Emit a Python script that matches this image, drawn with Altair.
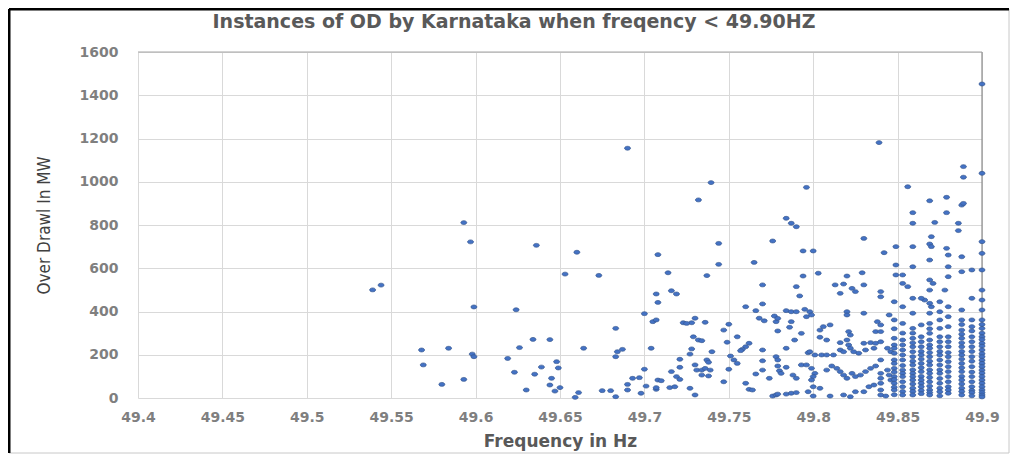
import altair as alt
import pandas as pd

# ---------------- data ----------------
# sparse part, 49.53 - 49.71 Hz
freq_low = [49.539, 49.544, 49.568, 49.569, 49.584, 49.580, 49.593, 49.593, 49.597, 49.599,
            49.598, 49.599, 49.619, 49.624, 49.636, 49.660, 49.690, 49.708, 49.653, 49.673,
            49.707, 49.708, 49.700, 49.705, 49.707, 49.683, 49.634, 49.644, 49.626, 49.664,
            49.684, 49.687, 49.683, 49.704, 49.648, 49.649, 49.639, 49.623, 49.635, 49.645,
            49.644, 49.650, 49.647, 49.630, 49.661, 49.659, 49.675, 49.680, 49.683, 49.690,
            49.690, 49.693, 49.697, 49.700, 49.698, 49.701, 49.707, 49.708]
od_low = [500, 522, 222, 153, 230, 63, 86, 811, 722, 421,
          203, 191, 183, 408, 706, 674, 1155, 663, 573, 567,
          481, 442, 390, 353, 361, 322, 271, 270, 233, 230,
          214, 225, 191, 230, 168, 139, 143, 119, 110, 91,
          60, 48, 32, 37, 25, 3, 34, 34, 6, 63,
          37, 91, 94, 133, 22, 55, 40, 83]

# middle part, 49.71 - 49.80 Hz
freq_mid = [49.7395, 49.732, 49.796, 49.784, 49.787, 49.790, 49.776, 49.794, 49.800, 49.744,
            49.744, 49.765, 49.737, 49.714, 49.794, 49.716, 49.719, 49.770, 49.790, 49.792,
            49.760, 49.766, 49.770, 49.730, 49.728, 49.723, 49.736, 49.725, 49.750, 49.747,
            49.768, 49.771, 49.777, 49.778, 49.779, 49.784, 49.787, 49.790, 49.787, 49.786,
            49.779, 49.793, 49.796, 49.729, 49.732, 49.734, 49.755, 49.727, 49.728, 49.749,
            49.740, 49.762, 49.760, 49.758, 49.757, 49.770, 49.778, 49.779, 49.770, 49.784,
            49.789, 49.797, 49.721, 49.721, 49.716, 49.719, 49.721, 49.730, 49.731, 49.734,
            49.736, 49.739, 49.734, 49.738, 49.737, 49.738, 49.751, 49.753, 49.755, 49.750,
            49.747, 49.766, 49.770, 49.774, 49.779, 49.780, 49.781, 49.784, 49.788, 49.790,
            49.793, 49.710, 49.707, 49.715, 49.718, 49.727, 49.730, 49.760, 49.762, 49.764,
            49.776, 49.778, 49.779, 49.784, 49.787, 49.790, 49.797]
od_mid = [996, 916, 974, 831, 808, 792, 726, 680, 680, 715,
          618, 627, 566, 579, 564, 496, 481, 523, 515, 472,
          422, 404, 435, 369, 348, 348, 350, 345, 341, 314,
          369, 357, 379, 353, 368, 404, 399, 399, 353, 327,
          310, 299, 376, 283, 268, 265, 283, 203, 227, 258,
          214, 253, 237, 225, 219, 222, 191, 176, 172, 230,
          268, 209, 179, 142, 122, 99, 86, 153, 129, 129,
          137, 129, 106, 102, 176, 165, 194, 176, 160, 133,
          75, 111, 129, 91, 148, 126, 114, 142, 106, 91,
          153, 80, 48, 48, 52, 45, 14, 68, 40, 37,
          9, 14, 18, 18, 22, 25, 29]

# 49.80 - 49.85 Hz
freq_high = [49.803, 49.820, 49.829, 49.849, 49.813, 49.818, 49.823, 49.825, 49.830, 49.816,
             49.840, 49.840, 49.795, 49.798, 49.799, 49.820, 49.820, 49.830, 49.845, 49.838,
             49.840, 49.806, 49.804, 49.810, 49.821, 49.822, 49.837, 49.840, 49.804, 49.808,
             49.816, 49.820, 49.821, 49.822, 49.830, 49.834, 49.837, 49.840, 49.844, 49.846,
             49.798, 49.801, 49.805, 49.808, 49.812, 49.816, 49.818, 49.824, 49.827, 49.831,
             49.836, 49.840, 49.796, 49.799, 49.801, 49.800, 49.799, 49.808, 49.811, 49.814,
             49.816, 49.818, 49.820, 49.823, 49.825, 49.828, 49.831, 49.834, 49.837, 49.840,
             49.840, 49.840, 49.844, 49.845, 49.846, 49.800, 49.804, 49.800, 49.810, 49.818,
             49.822, 49.825, 49.830, 49.833, 49.836, 49.840, 49.840, 49.843]
od_high = [577, 564, 579, 569, 523, 527, 507, 492, 523, 484,
           492, 468, 410, 399, 384, 399, 384, 392, 384, 353,
           338, 330, 314, 338, 307, 291, 307, 307, 281, 268,
           256, 268, 245, 230, 253, 256, 253, 260, 230, 214,
           214, 199, 199, 199, 199, 222, 214, 214, 207, 222,
           230, 176, 153, 137, 114, 99, 83, 129, 148, 137,
           122, 106, 91, 114, 99, 106, 122, 137, 148, 114,
           91, 68, 129, 106, 83, 52, 45, 9, 9, 14,
           6, 29, 29, 52, 60, 37, 14, 9]

# top right, 49.83 - 49.90 Hz
freq_top = [49.839, 49.830, 49.842, 49.849, 49.849, 49.900, 49.900, 49.900, 49.889, 49.889,
            49.856, 49.869, 49.879, 49.888, 49.889, 49.859, 49.879, 49.859, 49.872, 49.886,
            49.886, 49.870, 49.869, 49.870, 49.879, 49.866, 49.870, 49.856, 49.871, 49.878]
od_top = [1181, 738, 672, 700, 615, 1452, 1039, 723, 1070, 1021,
          977, 912, 928, 892, 900, 857, 857, 808, 812, 808,
          774, 746, 712, 700, 692, 453, 422, 515, 530, 499]

# dense columns near 49.85 - 49.90 Hz (overlapping markers)
col_freqs = [49.848, 49.853, 49.859, 49.864, 49.869, 49.875, 49.880, 49.888, 49.894, 49.900]
col_values = [
    [445, 361, 320, 276, 245, 230, 207, 176, 160, 137, 120, 99, 85, 68, 50, 37, 15],
    [569, 530, 422, 345, 300, 268, 245, 222, 199, 176, 150, 129, 114, 99, 75, 52, 30, 14],
    [700, 607, 461, 392, 322, 300, 276, 255, 237, 214, 191, 170, 153, 130, 114, 99, 83, 65,
     45, 30, 14],
    [461, 338, 283, 260, 237, 215, 199, 180, 160, 140, 122, 100, 83, 68, 52, 35, 20],
    [638, 546, 499, 438, 392, 345, 320, 299, 268, 245, 230, 210, 191, 170, 153, 130, 114, 95,
     75, 55, 37, 25, 14],
    [445, 399, 361, 322, 283, 260, 237, 215, 199, 176, 153, 130, 114, 90, 68, 45, 29, 10],
    [661, 607, 561, 422, 376, 330, 283, 260, 237, 210, 191, 168, 145, 122, 99, 75, 52, 37, 22],
    [653, 584, 407, 361, 340, 314, 295, 276, 255, 237, 215, 199, 180, 160, 140, 122, 100, 83,
     65, 45, 30, 14],
    [592, 461, 361, 330, 310, 283, 260, 237, 215, 191, 170, 145, 120, 99, 75, 52, 35, 25, 10],
    [669, 592, 499, 453, 407, 361, 340, 322, 300, 283, 270, 253, 240, 222, 205, 191, 175, 160,
     145, 129, 115, 99, 83, 68, 52, 37, 25, 14, 5],
]

chart_title = "Instances of OD by Karnataka when freqency < 49.90HZ"
x_ticks = [49.4, 49.45, 49.5, 49.55, 49.6, 49.65, 49.7, 49.75, 49.8, 49.85, 49.9]
y_ticks = [0, 200, 400, 600, 800, 1000, 1200, 1400, 1600]

# ---------------- build table ----------------
freq = freq_low + freq_mid + freq_high + freq_top
od = od_low + od_mid + od_high + od_top
for f, vals in zip(col_freqs, col_values):
    for v in vals:
        freq.append(f)
        od.append(v)
df = pd.DataFrame({"freq": freq, "od": od})

TITLE_GREY = "#595959"
LABEL_GREY = "#7f7f7f"
ELLIPSE = "M-1,0A1,0.65 0 1,0 1,0A1,0.65 0 1,0 -1,0Z"

x_enc = alt.X("freq:Q", title="Frequency in Hz",
              scale=alt.Scale(domain=[49.4, 49.9], nice=False, zero=False),
              axis=alt.Axis(values=x_ticks, labelExpr="format(datum.value, '.2~f')",
                            labelPadding=12, titleY=35, titleFontSize=17,
                            titleFontWeight="bold", titleColor=TITLE_GREY,
                            labelFlush=False))
y_enc = alt.Y("od:Q", title="Over Drawl In MW",
              scale=alt.Scale(domain=[0, 1600], nice=False),
              axis=alt.Axis(values=y_ticks, format="d", labelPadding=20,
                            titleX=-94, titleY=173, titleAngle=270,
                            titleBaseline="middle", titleAlign="center",
                            titleFont="Liberation Sans Narrow, DejaVu Sans Condensed, sans-serif",
                            titleFontSize=17, titleFontWeight="normal",
                            titleColor="#404040", labelFlush=False))

points = alt.Chart(df).mark_point(
    shape=ELLIPSE, size=36, filled=True, fill="#4472c4",
    stroke="#34558c", strokeWidth=0.7, opacity=1
).encode(x=x_enc, y=y_enc)

right_edge = alt.Chart(pd.DataFrame({"freq": [49.9]})).mark_rule(
    color="#8c8c8c", strokeWidth=1.2
).encode(x=alt.X("freq:Q", title="Frequency in Hz"))

top_edge = alt.Chart(pd.DataFrame({"od": [1600]})).mark_rule(
    color="#a6a6a6", strokeWidth=1.2
).encode(y=alt.Y("od:Q", title="Over Drawl In MW"))

one = pd.DataFrame({"k": [0]})
frame = alt.Chart(one).mark_rect(
    fill="transparent", stroke="#c8c8c8", strokeWidth=1, clip=False
).encode(x=alt.value(-129), x2=alt.value(871), y=alt.value(-43), y2=alt.value(401))
frame_left = alt.Chart(one).mark_rule(color="#000000", strokeWidth=3, clip=False).encode(
    x=alt.value(-129), y=alt.value(-43), y2=alt.value(401))
frame_top = alt.Chart(one).mark_rule(color="#000000", strokeWidth=3, clip=False).encode(
    x=alt.value(-129), x2=alt.value(871), y=alt.value(-43))

title_text = alt.Chart(one).mark_text(
    text=chart_title, font="DejaVu Sans", fontSize=19, fontWeight="bold",
    color=TITLE_GREY, align="center", baseline="middle", clip=False
).encode(x=alt.value(376), y=alt.value(-30))

chart = alt.layer(frame, right_edge, top_edge, points, frame_left, frame_top, title_text).properties(
    width=844, height=346,
    autosize=alt.AutoSizeParams(type="none"),
    padding={"left": 130, "top": 44, "right": 30, "bottom": 56},
    background="white",
).configure_view(stroke=None).configure_axis(
    grid=True, gridColor="#d9d9d9", gridWidth=1, domain=False, ticks=False,
    labelFont="DejaVu Sans", labelFontSize=14, labelFontWeight="bold",
    labelColor=LABEL_GREY, titleFont="DejaVu Sans"
)

chart.save("out.html", embed_options={"renderer": "svg", "actions": False})
